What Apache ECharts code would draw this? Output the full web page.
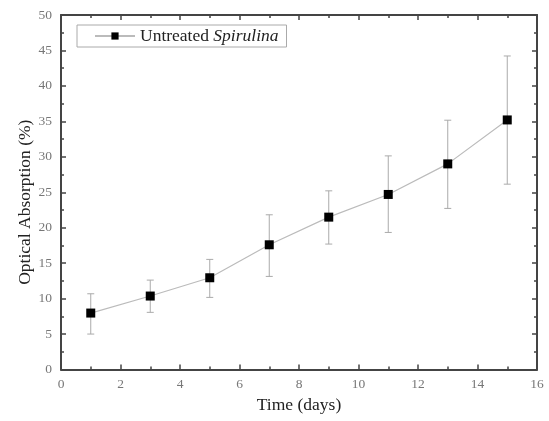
<!DOCTYPE html>
<html>
<head>
<meta charset="utf-8">
<script src="https://cdn.jsdelivr.net/npm/echarts@6/dist/echarts.min.js"></script>
<style>html,body{margin:0;padding:0;background:#fff}#c{width:549px;height:421px}</style>
</head>
<body>
<div id="c"></div>
<script>
const days = [1, 3, 5, 7, 9, 11, 13, 15];
const absorption = [7.96, 10.36, 12.94, 17.59, 21.49, 24.69, 29.0, 35.2];
const errLow = [5.0, 8.06, 10.17, 13.13, 17.69, 19.33, 22.72, 26.14];
const errHigh = [10.68, 12.61, 15.53, 21.82, 25.2, 30.13, 35.16, 44.22];
const xTicks = [0, 2, 4, 6, 8, 10, 12, 14, 16];
const yTicks = [0, 5, 10, 15, 20, 25, 30, 35, 40, 45, 50];

const font = 'Liberation Serif';
const axisColor = '#444';
const chart = echarts.init(document.getElementById('c'));
const lineData = days.map((d, i) => [d, absorption[i]]);
const errData = days.map((d, i) => [d, errLow[i], errHigh[i]]);

const baseX = {
  type: 'value', min: xTicks[0], max: xTicks[xTicks.length - 1], interval: 2,
  axisLine: { show: true, onZero: false, lineStyle: { color: axisColor, width: 2 } },
  axisTick: { show: true, inside: true, length: 5, lineStyle: { color: axisColor, width: 1.5 } },
  minorTick: { show: true, splitNumber: 2, length: 3, lineStyle: { color: axisColor, width: 1.5 } },
  splitLine: { show: false }
};
const baseY = {
  type: 'value', min: yTicks[0], max: yTicks[yTicks.length - 1], interval: 5,
  axisLine: { show: true, onZero: false, lineStyle: { color: axisColor, width: 2 } },
  axisTick: { show: true, inside: true, length: 5, lineStyle: { color: axisColor, width: 1.5 } },
  minorTick: { show: true, splitNumber: 2, length: 3, lineStyle: { color: axisColor, width: 1.5 } },
  splitLine: { show: false }
};

chart.setOption({
  animation: false,
  grid: { left: 61, right: 12, top: 15, bottom: 51.5 },
  legend: {
    left: 77, top: 25, width: 211, height: 23,
    padding: [2, 8, 2, 17],
    borderColor: '#aaa', borderWidth: 1, borderRadius: 0,
    itemWidth: 40, itemHeight: 9, itemGap: 6,
    data: ['Untreated Spirulina'],
    formatter: () => '{a|Untreated }{b|Spirulina}',
    textStyle: {
      rich: {
        a: { fontFamily: font, fontSize: 17.5, color: '#222' },
        b: { fontFamily: font, fontSize: 17.5, fontStyle: 'italic', color: '#222' }
      }
    }
  },
  xAxis: [
    Object.assign({}, baseX, {
      position: 'bottom',
      name: 'Time (days)', nameLocation: 'middle', nameGap: 23,
      nameTextStyle: { fontFamily: font, fontSize: 17.5, color: '#222' },
      axisLabel: { margin: 8, fontFamily: font, fontSize: 13.5, color: '#777' }
    }),
    Object.assign({}, baseX, { position: 'top', axisLabel: { show: false } })
  ],
  yAxis: [
    Object.assign({}, baseY, {
      position: 'left',
      name: 'Optical Absorption (%)', nameLocation: 'middle', nameGap: 27,
      nameMoveOverlap: false,
      nameTextStyle: { fontFamily: font, fontSize: 17.5, color: '#222', padding: [0, 20, 0, 0] },
      axisLabel: { margin: 9, fontFamily: font, fontSize: 13.5, color: '#777' }
    }),
    Object.assign({}, baseY, { position: 'right', axisLabel: { show: false } })
  ],
  series: [
    {
      type: 'custom', name: 'err', xAxisIndex: 0, yAxisIndex: 0,
      encode: { x: 0, y: [1, 2] },
      data: errData, z: 1,
      renderItem: function (params, api) {
        const x = api.value(0);
        const lo = api.coord([x, api.value(1)]);
        const hi = api.coord([x, api.value(2)]);
        const w = 3.5;
        const style = { stroke: '#aaa', lineWidth: 1 };
        return {
          type: 'group',
          children: [
            { type: 'line', shape: { x1: lo[0], y1: lo[1], x2: hi[0], y2: hi[1] }, style },
            { type: 'line', shape: { x1: lo[0] - w, y1: lo[1], x2: lo[0] + w, y2: lo[1] }, style },
            { type: 'line', shape: { x1: hi[0] - w, y1: hi[1], x2: hi[0] + w, y2: hi[1] }, style }
          ]
        };
      }
    },
    {
      type: 'line', name: 'Untreated Spirulina', xAxisIndex: 0, yAxisIndex: 0,
      data: lineData, z: 3,
      symbol: 'rect', symbolSize: 9,
      lineStyle: { color: '#bbb', width: 1.2 },
      itemStyle: { color: '#000' }
    }
  ]
});
</script>
</body>
</html>
